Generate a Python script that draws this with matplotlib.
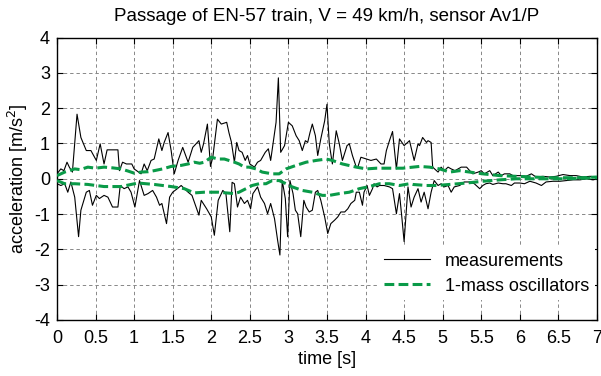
import matplotlib
matplotlib.use("Agg")
import matplotlib.pyplot as plt
from matplotlib.lines import Line2D

# ---- measurements: upper envelope ----
meas_up_t = [0.00, 0.05, 0.09, 0.13, 0.16, 0.20, 0.26, 0.31, 0.38, 0.44, 0.51, 0.56, 0.61, 0.65,
             0.79, 0.81, 0.85, 0.90, 0.97, 1.00, 1.09, 1.13, 1.17, 1.22, 1.26, 1.32, 1.36, 1.39,
             1.44, 1.48, 1.52, 1.57, 1.63, 1.70, 1.76, 1.84, 1.87, 1.90, 1.95, 1.99, 2.02, 2.08,
             2.13, 2.20, 2.23, 2.26, 2.30, 2.33, 2.36, 2.40, 2.44, 2.47, 2.50, 2.56, 2.60, 2.64,
             2.70, 2.74, 2.77, 2.84, 2.87, 2.90, 2.95, 3.00, 3.05, 3.10, 3.14, 3.18, 3.22, 3.25,
             3.28, 3.31, 3.35, 3.38, 3.42, 3.47, 3.50, 3.53, 3.57, 3.62, 3.66, 3.70, 3.76, 3.79,
             3.83, 3.88, 3.90, 3.94, 4.01, 4.07, 4.14, 4.20, 4.24, 4.27, 4.31, 4.35, 4.40, 4.44,
             4.50, 4.57, 4.63, 4.68, 4.70, 4.74, 4.79, 4.81, 4.85, 4.87, 4.94, 4.98, 5.02, 5.07,
             5.11, 5.16, 5.20, 5.24, 5.31, 5.35, 5.39, 5.46, 5.50, 5.54, 5.61, 5.65, 5.72, 5.76,
             5.80, 5.87, 5.91, 6.00, 6.08, 6.15, 6.21, 6.30, 6.39, 6.47, 6.56, 6.65, 6.73, 6.82,
             6.91, 7.00]
meas_up_v = [0.14, 0.28, 0.23, 0.47, 0.33, 0.19, 1.83, 1.17, 0.80, 0.80, 0.52, 0.99, 0.42, 0.82,
             0.82, 0.23, 0.47, 0.42, 0.42, 0.28, 0.14, 0.42, 0.23, 0.52, 0.56, 1.13, 0.80, 1.03,
             1.31, 0.80, 0.14, 0.52, 0.89, 0.47, 0.89, 1.08, 0.75, 0.99, 1.55, 0.35, 0.61, 1.69,
             1.55, 1.60, 1.30, 1.05, 0.47, 1.03, 0.80, 0.75, 0.52, 0.66, 0.42, 0.33, 0.47, 0.52,
             0.75, 0.85, 0.52, 1.60, 2.86, 0.75, 0.94, 1.60, 1.50, 1.22, 1.08, 0.80, 1.08, 1.03,
             1.31, 1.55, 1.22, 0.66, 1.13, 1.64, 2.11, 0.99, 0.42, 1.36, 0.99, 0.52, 0.94, 0.99,
             0.66, 0.33, 0.33, 0.61, 0.56, 0.52, 0.56, 0.42, 0.42, 0.80, 1.08, 1.34, 0.28, 1.13,
             0.94, 1.08, 0.52, 0.99, 0.94, 1.17, 1.03, 1.08, 1.03, 0.33, 0.19, 0.33, 0.23, 0.33,
             0.28, 0.23, 0.28, 0.33, 0.33, 0.23, 0.14, 0.19, 0.23, 0.14, 0.23, 0.09, 0.19, 0.09,
             0.14, 0.14, 0.09, 0.09, 0.07, 0.14, 0.05, 0.07, 0.05, 0.07, 0.12, 0.09, 0.09, 0.05,
             0.07, 0.05]

# ---- measurements: lower envelope ----
meas_lo_t = [0.00, 0.05, 0.10, 0.14, 0.18, 0.23, 0.28, 0.31, 0.38, 0.42, 0.46, 0.51, 0.55, 0.61,
             0.66, 0.72, 0.79, 0.82, 0.87, 0.92, 0.96, 1.01, 1.07, 1.13, 1.18, 1.24, 1.29, 1.33,
             1.36, 1.42, 1.46, 1.50, 1.56, 1.61, 1.70, 1.75, 1.84, 1.87, 1.94, 2.00, 2.04, 2.09,
             2.15, 2.19, 2.24, 2.27, 2.30, 2.34, 2.38, 2.43, 2.47, 2.51, 2.54, 2.60, 2.64, 2.69,
             2.73, 2.77, 2.82, 2.86, 2.89, 2.92, 2.96, 2.99, 3.02, 3.06, 3.09, 3.12, 3.16, 3.20,
             3.23, 3.27, 3.31, 3.35, 3.38, 3.42, 3.47, 3.51, 3.55, 3.60, 3.64, 3.68, 3.73, 3.77,
             3.81, 3.86, 3.88, 3.92, 3.96, 3.98, 4.02, 4.05, 4.09, 4.11, 4.15, 4.18, 4.24, 4.31,
             4.35, 4.40, 4.44, 4.47, 4.50, 4.55, 4.59, 4.63, 4.68, 4.72, 4.76, 4.81, 4.85, 4.89,
             4.94, 4.98, 5.02, 5.07, 5.11, 5.15, 5.22, 5.28, 5.35, 5.41, 5.48, 5.52, 5.56, 5.61,
             5.65, 5.72, 5.78, 5.82, 5.89, 5.93, 6.00, 6.06, 6.13, 6.21, 6.28, 6.34, 6.43, 6.52,
             6.60, 6.69, 6.78, 6.86, 6.95, 7.00]
meas_lo_v = [-0.14, -0.19, -0.14, -0.38, -0.09, -0.52, -1.64, -0.89, -0.38, -0.33, -0.75, -0.47,
             -0.56, -0.47, -0.52, -0.80, -0.80, -0.19, -0.28, -0.23, -0.38, -0.80, -0.05, -0.47,
             -0.42, -0.33, -0.52, -0.75, -0.70, -1.27, -0.52, -0.38, -0.28, -0.19, -0.38, -0.47,
             -1.03, -0.61, -0.85, -1.08, -1.60, -0.61, -0.33, -0.42, -1.50, -0.10, -0.14, -0.80,
             -0.52, -0.70, -0.61, -0.85, -0.42, -0.23, -0.52, -0.70, -0.99, -0.70, -1.13, -1.74,
             -2.16, -0.05, -0.56, -1.64, -0.05, -0.42, -0.89, -0.99, -1.64, -0.61, -0.80, -0.94,
             -0.89, -0.38, -0.33, -0.61, -1.08, -1.55, -1.27, -1.17, -1.08, -0.94, -0.94, -0.85,
             -0.70, -0.61, -0.38, -0.38, -0.75, -0.38, -0.19, -0.47, -0.28, -0.14, -0.23, -0.19,
             -0.19, -0.23, -0.28, -0.99, -0.42, -1.08, -1.78, -0.23, -0.80, -0.52, -0.28, -0.66,
             -0.38, -0.85, -0.38, -0.05, -0.19, -0.14, -0.23, -0.19, -0.38, -0.23, -0.19, -0.09,
             -0.09, -0.14, -0.28, -0.19, -0.14, -0.12, -0.16, -0.12, -0.14, -0.14, -0.19, -0.12,
             -0.12, -0.14, -0.07, -0.12, -0.19, -0.09, -0.07, -0.07, -0.05, -0.03, -0.03, 0.00,
             -0.03, 0.00]

# ---- 1-mass oscillators: upper envelope ----
osc_up_t = [0.00, 0.05, 0.10, 0.16, 0.23, 0.30, 0.40, 0.50, 0.61, 0.72, 0.83, 0.92, 1.00, 1.09,
            1.18, 1.26, 1.37, 1.48, 1.61, 1.70, 1.78, 1.85, 1.91, 2.00, 2.09, 2.17, 2.30, 2.36,
            2.43, 2.49, 2.58, 2.66, 2.79, 2.88, 2.97, 3.10, 3.23, 3.36, 3.49, 3.57, 3.70, 3.88,
            4.01, 4.14, 4.31, 4.48, 4.57, 4.70, 4.83, 4.96, 5.09, 5.22, 5.35, 5.52, 5.74, 5.95,
            6.17, 6.39, 6.60, 6.82, 7.00]
osc_up_v = [0.09, 0.14, 0.19, 0.23, 0.28, 0.26, 0.33, 0.30, 0.33, 0.31, 0.28, 0.22, 0.16, 0.19,
            0.20, 0.23, 0.28, 0.35, 0.38, 0.42, 0.47, 0.44, 0.47, 0.61, 0.56, 0.56, 0.47, 0.42,
            0.33, 0.33, 0.28, 0.19, 0.14, 0.14, 0.28, 0.38, 0.47, 0.52, 0.56, 0.52, 0.42, 0.33,
            0.28, 0.30, 0.30, 0.30, 0.32, 0.35, 0.33, 0.28, 0.19, 0.23, 0.19, 0.14, 0.09, 0.07,
            0.05, 0.03, 0.03, 0.03, 0.05]

# ---- 1-mass oscillators: lower envelope ----
osc_lo_t = [0.00, 0.10, 0.23, 0.40, 0.61, 0.83, 1.05, 1.26, 1.48, 1.65, 1.78, 1.91, 2.09, 2.30,
            2.36, 2.45, 2.53, 2.62, 2.71, 2.79, 2.88, 2.97, 3.05, 3.18, 3.31, 3.44, 3.53, 3.66,
            3.79, 3.92, 4.05, 4.18, 4.31, 4.44, 4.57, 4.61, 4.79, 4.92, 5.09, 5.31, 5.52, 5.74,
            5.95, 6.17, 6.60, 7.00]
osc_lo_v = [-0.05, -0.14, -0.14, -0.16, -0.22, -0.22, -0.12, -0.16, -0.22, -0.28, -0.40, -0.38,
            -0.38, -0.42, -0.38, -0.28, -0.19, -0.14, -0.14, -0.05, -0.05, -0.14, -0.23, -0.33,
            -0.38, -0.47, -0.47, -0.42, -0.38, -0.28, -0.22, -0.14, -0.14, -0.19, -0.14, -0.16,
            -0.19, -0.19, -0.16, -0.12, -0.07, -0.03, 0.00, 0.00, 0.00, 0.03]

x_ticks = [0, 0.5, 1, 1.5, 2, 2.5, 3, 3.5, 4, 4.5, 5, 5.5, 6, 6.5, 7]
x_tick_labels = ["0", "0.5", "1", "1.5", "2", "2.5", "3", "3.5", "4", "4.5", "5", "5.5", "6", "6.5", "7"]
y_ticks = [-4, -3, -2, -1, 0, 1, 2, 3, 4]
y_tick_labels = ["-4", "-3", "-2", "-1", "0", "1", "2", "3", "4"]

plt.rcParams['font.family'] = ['Liberation Sans', 'DejaVu Sans']

fig = plt.figure(figsize=(6.01, 3.76), dpi=100)
ax = fig.add_axes([0.0948, 0.149, 0.8985, 0.751])

green = '#0a9a48'
dash = (0, (3.2, 1.4))
ax.plot(meas_up_t, meas_up_v, color='black', lw=0.8, zorder=3)
ax.plot(meas_lo_t, meas_lo_v, color='black', lw=0.8, zorder=3)
ax.plot(osc_up_t, osc_up_v, color=green, lw=2.2, ls=dash, zorder=4)
ax.plot(osc_lo_t, osc_lo_v, color=green, lw=2.2, ls=dash, zorder=4)

ax.set_xlim(0, 7)
ax.set_ylim(-4, 4)
ax.set_xticks(x_ticks)
ax.set_xticklabels(x_tick_labels)
ax.set_yticks(y_ticks)
ax.set_yticklabels(y_tick_labels)
ax.tick_params(direction='in', top=True, right=True, length=4, width=0.8,
               labelsize=13)
ax.tick_params(axis='x', pad=7)
ax.tick_params(axis='y', pad=5)
ax.grid(True, color='#888888', ls=(0, (3.5, 3)), lw=0.7)
for s in ax.spines.values():
    s.set_linewidth(1.0)

ax.set_title('Passage of EN-57 train, V = 49 km/h, sensor Av1/P', fontsize=13.5, pad=12)
ax.set_xlabel('time [s]', fontsize=13, labelpad=3)
ax.set_ylabel('acceleration [m/s$^2$]', fontsize=13, labelpad=3)

handles = [Line2D([], [], color='black', lw=0.8),
           Line2D([], [], color=green, lw=2.2, ls=dash)]
leg = ax.legend(handles, ['measurements', '1-mass oscillators'], loc='upper left',
                bbox_to_anchor=(0.578, 0.29), fontsize=13, frameon=True,
                fancybox=False, edgecolor='none', facecolor='white', framealpha=1,
                handlelength=2.6, handletextpad=0.8, labelspacing=0.45, borderpad=0.3)
leg.set_zorder(10)

fig.savefig('out.png', dpi=100)
